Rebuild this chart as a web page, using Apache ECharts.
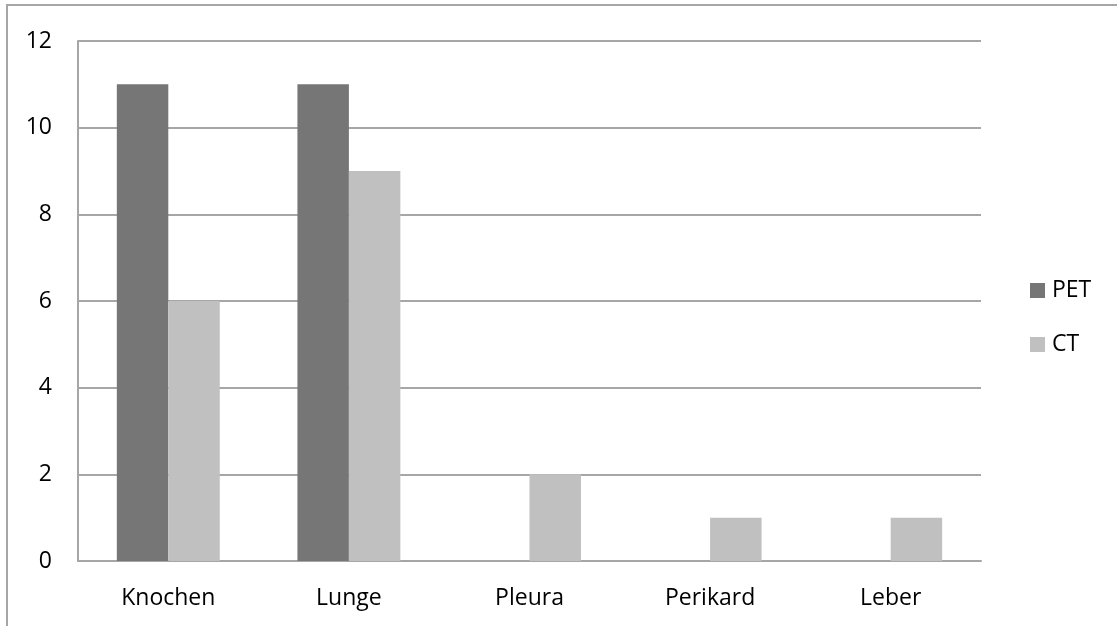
<!DOCTYPE html>
<html>
<head>
<meta charset="utf-8">
<script src="https://cdn.jsdelivr.net/npm/echarts@6/dist/echarts.min.js"></script>
<style>
  html, body { margin: 0; padding: 0; background: #fff; }
  #echarts_main { width: 1117px; height: 626px; }
</style>
</head>
<body>
<div id="echarts_main"></div>
<script>
// Kategorien und Werte
var categories = ['Knochen', 'Lunge', 'Pleura', 'Perikard', 'Leber'];
var petValues = [11, 11, 0, 0, 0];
var ctValues = [6, 9, 2, 1, 1];
var seriesNames = ['PET', 'CT'];

var font = '"Open Sans", "Liberation Sans", sans-serif';

var myChart = echarts.init(document.getElementById('echarts_main'));
myChart.setOption({
  animation: false,
  textStyle: { fontFamily: font },
  graphic: [
    {
      type: 'rect',
      shape: { x: 7, y: 5, width: 1200, height: 700 },
      style: { fill: 'none', stroke: '#a6a6a6', lineWidth: 2 },
      silent: true
    }
  ],
  grid: {
    left: 78,
    right: 136,
    top: 41,
    bottom: 65,
    containLabel: false
  },
  legend: {
    orient: 'vertical',
    left: 1030,
    top: 279,
    padding: 0,
    itemWidth: 15,
    itemHeight: 15,
    itemGap: 31,
    icon: 'rect',
    textStyle: { fontFamily: font, fontSize: 23, color: '#000', padding: [0, 0, 0, 2] },
    data: seriesNames
  },
  xAxis: {
    type: 'category',
    data: categories,
    axisTick: { show: false },
    axisLine: { lineStyle: { color: '#a6a6a6', width: 2 } },
    axisLabel: { color: '#000', fontSize: 23, margin: 26, fontFamily: font }
  },
  yAxis: {
    type: 'value',
    min: 0,
    max: 12,
    interval: 2,
    axisLine: { show: true, lineStyle: { color: '#a6a6a6', width: 2 } },
    axisTick: { show: false },
    splitLine: { lineStyle: { color: '#a6a6a6', width: 2 } },
    axisLabel: { color: '#000', fontSize: 23, margin: 26, fontFamily: font }
  },
  series: [
    {
      name: seriesNames[0],
      type: 'bar',
      data: petValues,
      barGap: '0%',
      barCategoryGap: '43%',
      itemStyle: { color: '#767676' }
    },
    {
      name: seriesNames[1],
      type: 'bar',
      data: ctValues,
      barGap: '0%',
      barCategoryGap: '43%',
      itemStyle: { color: '#c0c0c0' }
    }
  ]
});
</script>
</body>
</html>
